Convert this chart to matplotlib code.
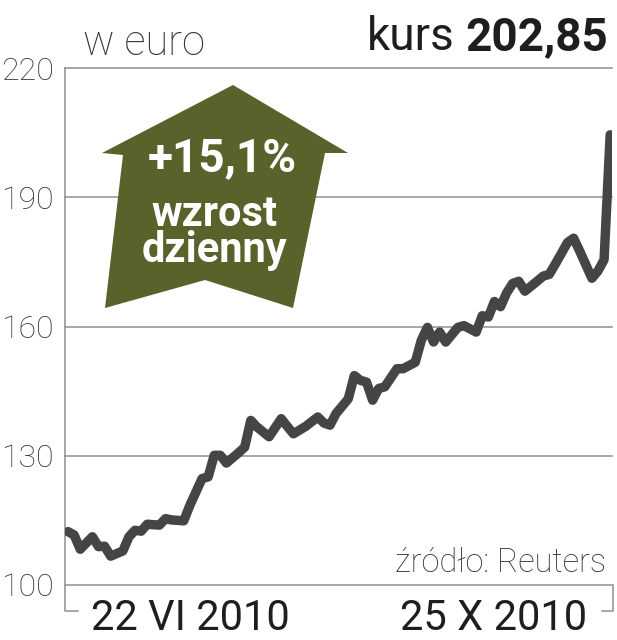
import matplotlib
matplotlib.use("Agg")
import matplotlib.pyplot as plt
from matplotlib.patches import Polygon

# ── data (trading day index from 22 VI 2010, close in EUR) ───────────────────
DAYS = [0, 1, 2, 4, 5, 6, 7, 9, 10, 11, 12, 13, 15, 16, 17, 19, 20, 22, 23, 24,
        25, 26, 28, 29, 30, 31, 33, 35, 36, 37, 39, 41, 42, 43, 44, 46, 47, 48,
        49, 50, 51, 52, 54, 55, 57, 58, 59, 60, 61, 62, 64, 65, 67, 68, 69, 70,
        71, 72, 73, 74, 75, 77, 78, 79, 80, 82, 83, 84, 86, 87, 88, 89]
PRICE = [112.4, 111.6, 108.3, 111.2, 108.9, 109.0, 106.7, 107.9, 111.2, 112.7,
         112.5, 114.1, 113.9, 115.4, 115.1, 114.9, 118.5, 124.7, 125.1, 130.1,
         130.1, 128.3, 130.7, 132.0, 138.2, 136.7, 134.4, 138.6, 136.8, 135.1,
         136.8, 139.0, 137.6, 137.1, 139.8, 143.2, 148.6, 147.5, 147.1, 142.9,
         145.6, 146.0, 150.2, 150.2, 151.7, 156.8, 159.8, 156.4, 158.7, 156.4,
         159.8, 160.2, 158.7, 162.5, 162.2, 165.8, 164.6, 167.8, 170.0, 170.5,
         168.2, 170.5, 171.7, 172.1, 174.5, 179.5, 180.5, 177.5, 171.2, 172.9,
         175.5, 204.5]
YTICKS = [100, 130, 160, 190, 220]
DATE_LABELS = ["22 VI 2010", "25 X 2010"]

# ── palette ──────────────────────────────────────────────────────────────────
LINE = "#454545"
GRID = "#8f8f8f"
OLIVE = "#59622a"
INK = "#1e1e1e"

W, H = 617, 640
FONT = "Roboto"


def px(x, y):
    # pixel position -> figure fraction
    return (x / W, 1 - y / H)


fig = plt.figure(figsize=(W / 100, H / 100), dpi=100)
fig.patch.set_facecolor("white")
ax = fig.add_axes([65 / W, 1 - 585 / H, 547 / W, 517 / H])
ax.set_xlim(-0.5, 89.3)
ax.set_ylim(100, 220)

for v in YTICKS:
    ax.axhline(v, color=GRID, lw=1.1, zorder=1, clip_on=False)

ax.plot(DAYS, PRICE, color=LINE, lw=6.8, solid_joinstyle="round",
        solid_capstyle="round", zorder=3)

for s in ax.spines.values():
    s.set_visible(False)
ax.set_xticks([])
ax.set_yticks(YTICKS)
ax.set_yticklabels([str(v) for v in YTICKS], fontsize=23, family=FONT,
                   weight="light", color="#333333")
ax.tick_params(axis="y", length=0, pad=8)

# axis bracket: left spine running down, small end tick on the right
yb = -26 / 517
ax.plot([0, 0, 13 / 547], [1, yb, yb], color=GRID, lw=1.1,
        transform=ax.transAxes, clip_on=False)
ax.plot([1.002, 1.002, 0.982], [0, yb, yb], color=GRID, lw=1.1,
        transform=ax.transAxes, clip_on=False)

# date labels
fig.text(*px(190, 630), DATE_LABELS[0], ha="center", va="baseline",
         fontsize=30, family=FONT, color=INK)
fig.text(*px(494, 630), DATE_LABELS[1], ha="center", va="baseline",
         fontsize=30, family=FONT, color=INK)

# header
fig.text(*px(83, 55), "w euro", ha="left", va="baseline", fontsize=30,
         family=FONT, weight="light", color="#333333")
fig.text(*px(608, 50), "202,85", ha="right", va="baseline", fontsize=33,
         family=FONT, weight="bold", color=INK)
fig.text(*px(455, 50), "kurs", ha="right", va="baseline", fontsize=33,
         family=FONT, color=INK)

fig.text(*px(606, 572), "źródło: Reuters", ha="right", va="baseline",
         fontsize=23.5, family=FONT, weight="light", color="#333333")

# big arrow badge
arrow_pts = [px(233, 85), px(348, 153), px(325, 153), px(293, 308),
             px(205, 280), px(105, 308), px(123, 155), px(102, 153)]
fig.patches.append(Polygon(arrow_pts, closed=True, facecolor=OLIVE,
                           edgecolor="none", transform=fig.transFigure,
                           figure=fig, zorder=2))
fig.text(*px(222, 171), "+15,1%", ha="center", va="baseline", fontsize=33,
         family=FONT, weight="bold", color="white", zorder=3)
fig.text(*px(214, 262), "wzrost\ndzienny", ha="center", va="baseline",
         fontsize=30, family=FONT, weight="bold", color="white",
         linespacing=0.85, zorder=3)

fig.savefig("out.png", dpi=100, facecolor="white")
